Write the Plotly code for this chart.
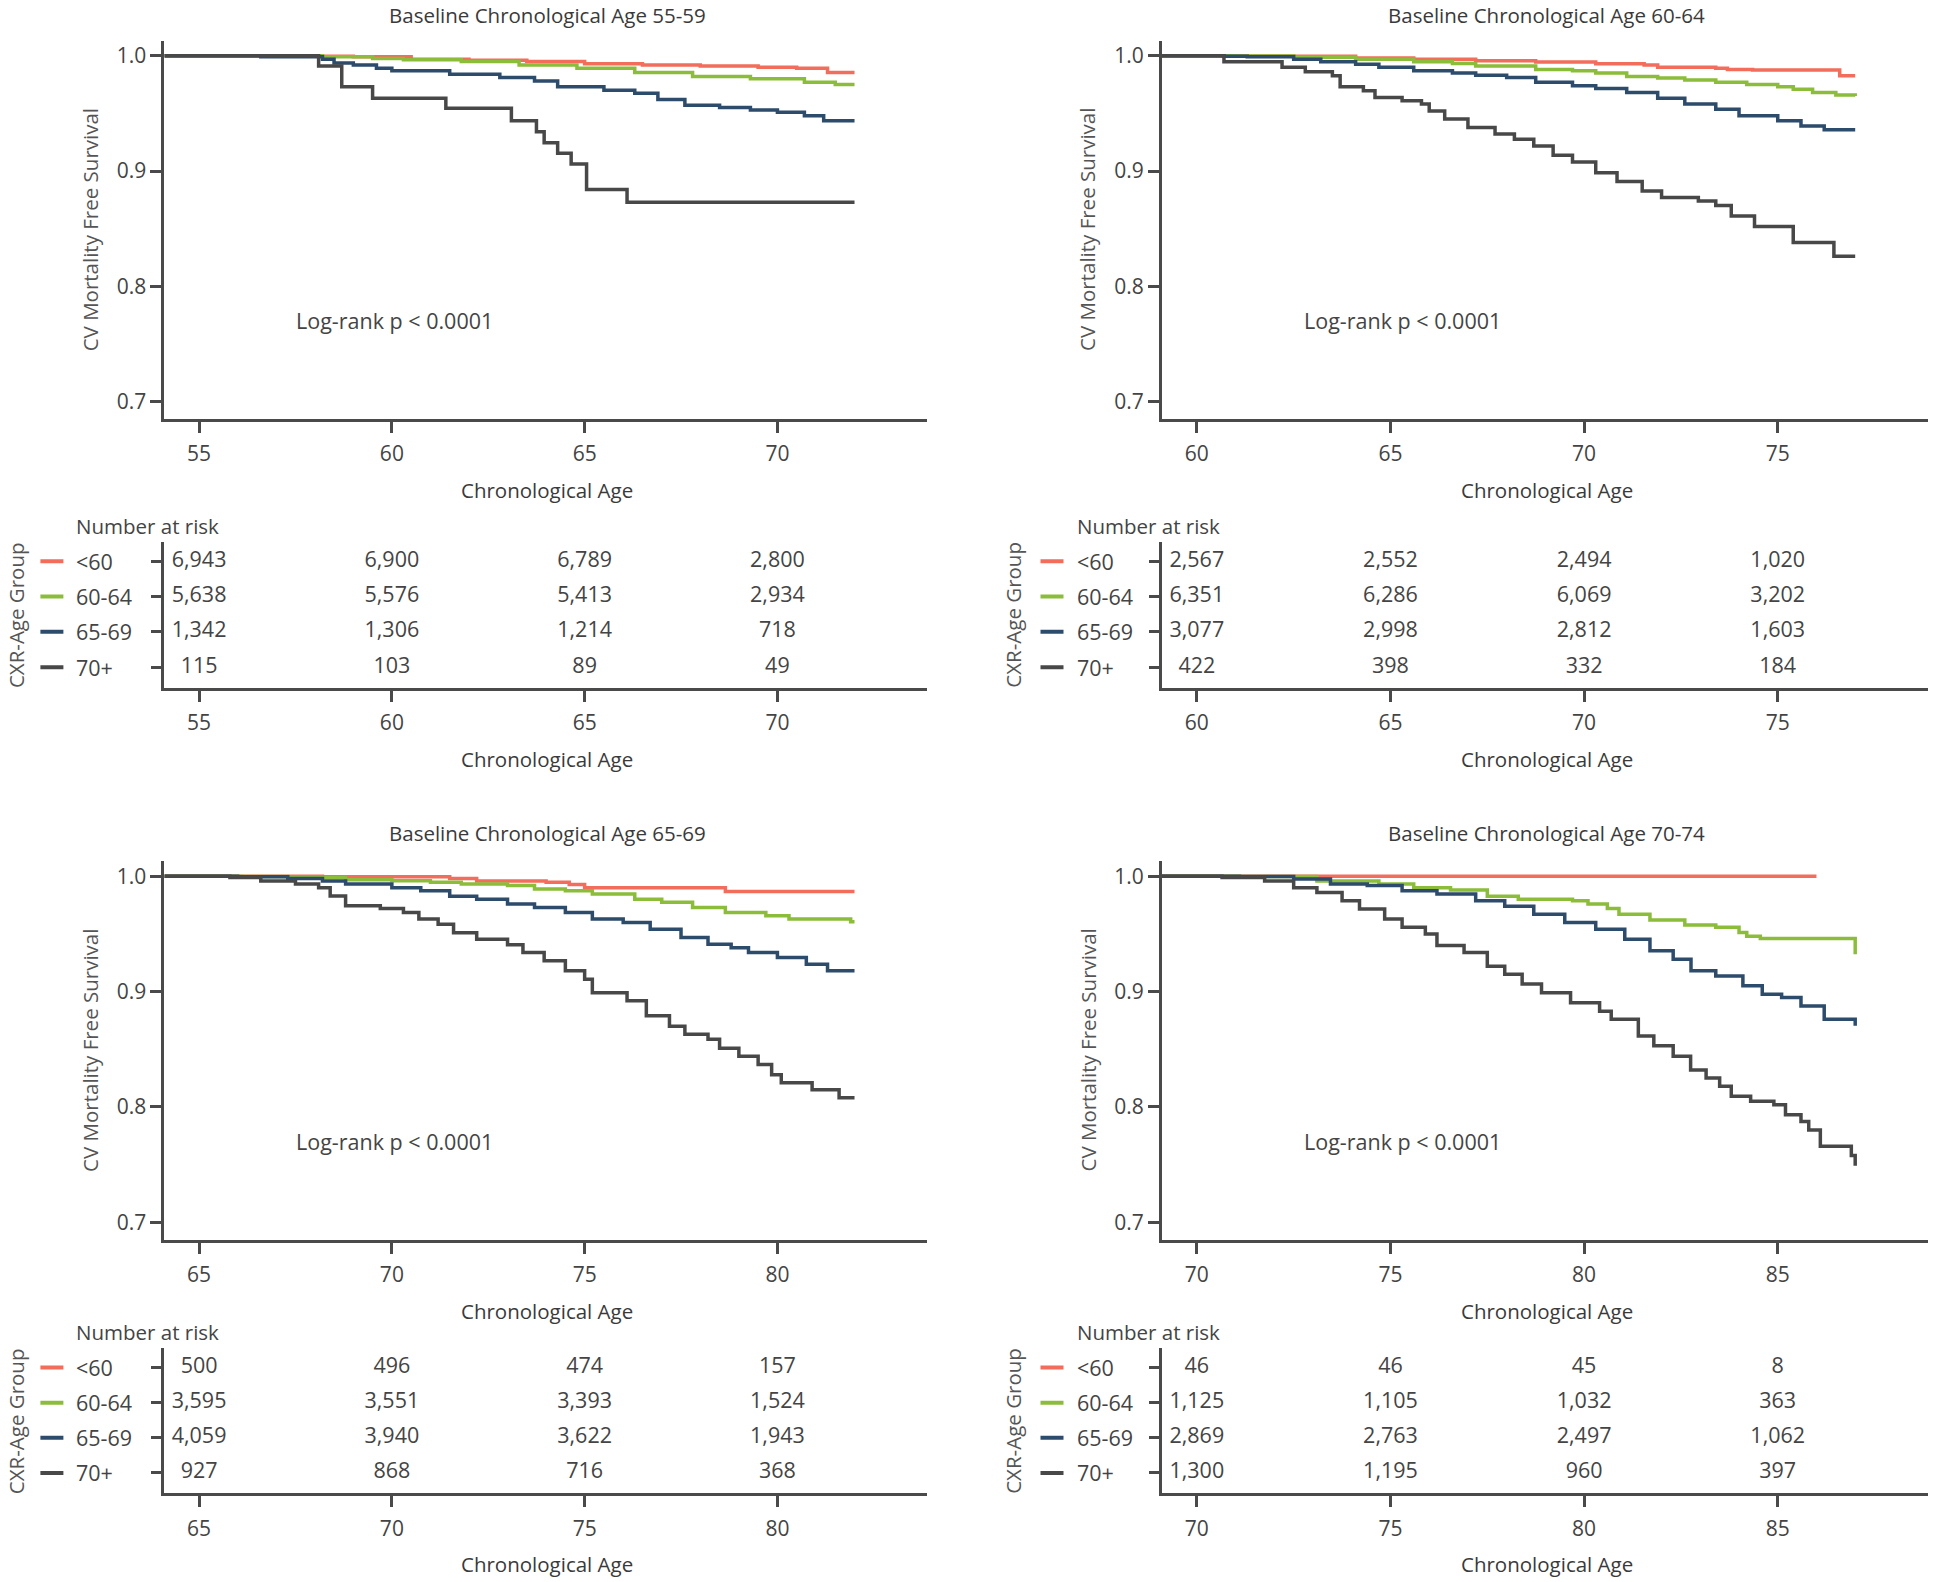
import plotly.graph_objects as go

# ---------------- data ----------------
groups = ["<60", "60-64", "65-69", "70+"]
panel_titles = ["Baseline Chronological Age 55-59", "Baseline Chronological Age 60-64",
                "Baseline Chronological Age 65-69", "Baseline Chronological Age 70-74"]
x_ticks_tl = [55, 60, 65, 70]
x_ticks_tr = [60, 65, 70, 75]
x_ticks_bl = [65, 70, 75, 80]
x_ticks_br = [70, 75, 80, 85]
y_ticks = [0.7, 0.8, 0.9, 1.0]

# --- Baseline 55-59 ---
tl_red_x = [54.1, 58.0, 59.0, 60.5, 62.0, 63.5, 65.0, 66.5, 68.0, 69.5, 70.5, 71.3, 72.0]
tl_red_y = [1.0, 0.9995, 0.999, 0.997, 0.996, 0.995, 0.993, 0.992, 0.991, 0.990, 0.989, 0.9855, 0.9855]
tl_green_x = [54.1, 58.2, 59.5, 60.3, 61.8, 63.3, 64.8, 66.3, 67.8, 69.3, 70.7, 71.5, 72.0]
tl_green_y = [1.0, 0.999, 0.9975, 0.9965, 0.995, 0.992, 0.989, 0.9855, 0.982, 0.980, 0.977, 0.975, 0.975]
tl_blue_x = [54.1, 56.6, 58.2, 58.5, 59.0, 59.6, 60.0, 61.5, 62.8, 63.7, 64.3, 65.5, 66.3, 66.9,
             67.6, 68.5, 69.3, 70.0, 70.7, 71.2, 72.0]
tl_blue_y = [1.0, 0.999, 0.997, 0.9936, 0.992, 0.989, 0.987, 0.984, 0.981, 0.978, 0.973, 0.970, 0.9675, 0.962,
             0.957, 0.955, 0.953, 0.951, 0.948, 0.9435, 0.9435]
tl_black_x = [54.1, 58.1, 58.7, 59.5, 61.4, 63.1, 63.75, 63.95, 64.3, 64.65, 65.05, 66.1, 72.0]
tl_black_y = [1.0, 0.991, 0.973, 0.963, 0.9545, 0.9435, 0.934, 0.9246, 0.9154, 0.906, 0.884, 0.873, 0.873]

# --- Baseline 60-64 ---
tr_red_x = [59.0, 61.3, 62.5, 64.1, 65.6, 67.2, 68.75, 70.3, 71.55, 71.9, 73.4, 73.7, 74.35, 76.6, 77.0]
tr_red_y = [1.0, 0.9997, 0.9994, 0.998, 0.997, 0.9957, 0.9945, 0.993, 0.992, 0.990, 0.989, 0.988, 0.9875,
            0.9826, 0.9826]
tr_green_x = [59.0, 61.0, 62.5, 64.1, 65.6, 66.6, 67.2, 68.75, 69.7, 70.3, 71.1, 71.9, 72.6, 73.4, 74.2,
              75.0, 75.4, 75.9, 76.5, 77.0]
tr_green_y = [1.0, 0.9997, 0.9986, 0.997, 0.9948, 0.9933, 0.991, 0.988, 0.987, 0.985, 0.982, 0.9806, 0.979,
              0.977, 0.975, 0.973, 0.971, 0.968, 0.966, 0.965]
tr_blue_x = [59.0, 60.7, 61.3, 62.5, 63.2, 64.1, 64.7, 65.6, 66.6, 67.2, 68.0, 68.75, 69.7, 70.3, 71.1,
             71.9, 72.6, 73.4, 74.0, 75.0, 75.6, 76.2, 77.0]
tr_blue_y = [1.0, 0.9995, 0.999, 0.997, 0.9948, 0.9925, 0.990, 0.987, 0.985, 0.983, 0.981, 0.977, 0.974,
             0.9716, 0.968, 0.963, 0.958, 0.9536, 0.948, 0.9435, 0.939, 0.9357, 0.9357]
tr_black_x = [59.0, 60.7, 62.2, 62.8, 63.5, 63.7, 64.3, 64.6, 65.3, 65.8, 66.0, 66.4, 67.0, 67.7, 68.2,
              68.7, 69.2, 69.7, 70.3, 70.85, 71.5, 72.0, 72.95, 73.4, 73.8, 74.4, 75.4, 76.45, 77.0]
tr_black_y = [1.0, 0.9948, 0.990, 0.986, 0.9826, 0.973, 0.9696, 0.9638, 0.961, 0.958, 0.952, 0.945, 0.9377,
              0.932, 0.9275, 0.9217, 0.9136, 0.9078, 0.8986, 0.891, 0.8826, 0.877, 0.874, 0.870, 0.861,
              0.852, 0.838, 0.826, 0.826]

# --- Baseline 65-69 ---
bl_red_x = [64.1, 68.2, 71.5, 72.2, 74.0, 74.6, 75.0, 78.65, 82.0]
bl_red_y = [1.0, 0.9995, 0.998, 0.996, 0.9948, 0.9928, 0.990, 0.9867, 0.9867]
bl_green_x = [64.1, 66.1, 67.3, 68.8, 70.0, 71.0, 71.8, 73.0, 73.7, 74.5, 75.2, 76.3, 77.0, 77.8, 78.65,
              79.7, 80.3, 81.9, 82.0]
bl_green_y = [1.0, 0.9997, 0.999, 0.997, 0.9962, 0.9948, 0.9933, 0.992, 0.989, 0.9875, 0.9846, 0.980,
              0.9774, 0.973, 0.9687, 0.9658, 0.963, 0.9606, 0.9606]
bl_blue_x = [64.1, 66.0, 67.3, 68.2, 68.8, 70.0, 70.75, 71.5, 72.2, 73.0, 73.7, 74.5, 75.2, 76.0, 76.7,
             77.5, 78.2, 78.8, 79.25, 80.0, 80.75, 81.3, 82.0]
bl_blue_y = [1.0, 0.9995, 0.998, 0.996, 0.9933, 0.990, 0.9875, 0.9826, 0.980, 0.976, 0.973, 0.9687, 0.963,
             0.960, 0.954, 0.947, 0.941, 0.938, 0.934, 0.9296, 0.9238, 0.918, 0.918]
bl_black_x = [64.1, 65.8, 66.6, 67.5, 68.1, 68.4, 68.8, 69.7, 70.3, 70.7, 71.2, 71.6, 72.2, 73.0, 73.4,
              73.95, 74.5, 75.0, 75.2, 76.1, 76.6, 77.2, 77.6, 78.2, 78.5, 79.0, 79.5, 79.85, 80.1, 80.9,
              81.6, 82.0]
bl_black_y = [1.0, 0.999, 0.996, 0.9933, 0.990, 0.983, 0.9745, 0.972, 0.9687, 0.963, 0.9585, 0.951, 0.9455,
              0.9406, 0.934, 0.9267, 0.918, 0.9107, 0.899, 0.892, 0.879, 0.870, 0.863, 0.8586, 0.851, 0.844,
              0.8368, 0.828, 0.821, 0.815, 0.808, 0.808]

# --- Baseline 70-74 ---
br_red_x = [69.0, 86.0]
br_red_y = [1.0, 1.0]
br_green_x = [69.0, 71.1, 73.1, 74.7, 75.6, 76.55, 77.5, 78.3, 79.7, 80.1, 80.6, 80.9, 81.7, 82.6, 83.4,
              84.0, 84.2, 84.55, 87.0, 87.0]
br_green_y = [1.0, 0.9997, 0.996, 0.9933, 0.990, 0.988, 0.9826, 0.980, 0.9788, 0.976, 0.972, 0.967, 0.962,
              0.9577, 0.9557, 0.9513, 0.948, 0.946, 0.946, 0.9325]
br_blue_x = [69.0, 71.1, 72.5, 73.45, 74.4, 75.3, 76.2, 77.2, 77.95, 78.7, 79.5, 80.3, 81.05, 81.7, 82.3,
             82.76, 83.4, 84.1, 84.6, 85.1, 85.6, 86.2, 87.0, 87.0]
br_blue_y = [1.0, 0.9997, 0.9977, 0.9933, 0.992, 0.9875, 0.9846, 0.9788, 0.974, 0.967, 0.960, 0.954, 0.9455,
             0.9354, 0.928, 0.918, 0.9136, 0.905, 0.8977, 0.895, 0.8875, 0.876, 0.876, 0.8705]
br_black_x = [69.0, 70.65, 71.75, 72.5, 73.1, 73.75, 74.2, 74.85, 75.3, 75.9, 76.2, 76.9, 77.5, 77.95,
              78.4, 78.9, 79.65, 80.4, 80.7, 81.4, 81.8, 82.3, 82.75, 83.15, 83.5, 83.8, 84.3, 84.9, 85.2,
              85.6, 85.8, 86.1, 86.9, 87.0]
br_black_y = [1.0, 0.999, 0.996, 0.990, 0.986, 0.9788, 0.9716, 0.963, 0.9557, 0.950, 0.940, 0.934, 0.922,
              0.915, 0.9067, 0.899, 0.8904, 0.883, 0.876, 0.8615, 0.853, 0.844, 0.832, 0.8252, 0.818,
              0.8093, 0.805, 0.802, 0.7933, 0.7875, 0.780, 0.766, 0.758, 0.749]

# Numbers at risk (rows: <60, 60-64, 65-69, 70+; columns at the x ticks)
risk_tl = [[6943, 6900, 6789, 2800], [5638, 5576, 5413, 2934], [1342, 1306, 1214, 718], [115, 103, 89, 49]]
risk_tr = [[2567, 2552, 2494, 1020], [6351, 6286, 6069, 3202], [3077, 2998, 2812, 1603], [422, 398, 332, 184]]
risk_bl = [[500, 496, 474, 157], [3595, 3551, 3393, 1524], [4059, 3940, 3622, 1943], [927, 868, 716, 368]]
risk_br = [[46, 46, 45, 8], [1125, 1105, 1032, 363], [2869, 2763, 2497, 1062], [1300, 1195, 960, 397]]

# ---------------- styling / layout ----------------
W, H = 1938, 1582
COLORS = ["#f26d5b", "#8bbd3b", "#2d4b6b", "#484848"]
AX = "#4a4a4a"
TXT = "#444444"
GRAY = "#555555"
FONT = "Open Sans"


def fx(p):
    return p / W


def fy(p):
    return 1 - p / H


panels = [
    dict(title=panel_titles[0], ticks=x_ticks_tl, risk=risk_tl,
         curves=[(tl_red_x, tl_red_y), (tl_green_x, tl_green_y), (tl_blue_x, tl_blue_y), (tl_black_x, tl_black_y)]),
    dict(title=panel_titles[1], ticks=x_ticks_tr, risk=risk_tr,
         curves=[(tr_red_x, tr_red_y), (tr_green_x, tr_green_y), (tr_blue_x, tr_blue_y), (tr_black_x, tr_black_y)]),
    dict(title=panel_titles[2], ticks=x_ticks_bl, risk=risk_bl,
         curves=[(bl_red_x, bl_red_y), (bl_green_x, bl_green_y), (bl_blue_x, bl_blue_y), (bl_black_x, bl_black_y)]),
    dict(title=panel_titles[3], ticks=x_ticks_br, risk=risk_br,
         curves=[(br_red_x, br_red_y), (br_green_x, br_green_y), (br_blue_x, br_blue_y), (br_black_x, br_black_y)]),
]

# pixel geometry (page pixels)
col_left = [164.4, 1162.0]
col_right = [927.0, 1928.0]
label_dx = [-90, -87.5]        # left edge of group labels / "Number at risk" relative to axis
logrank_dx = [130, 140]
surv_top = [40.8, 861.4]
surv_bot = [419.0, 1239.6]
risk_top = [541.7, 1348.3]
risk_bot = [687.7, 1493.3]
title_y = [15.0, 833.3]
nar_y = [526.0, 1332.0]
X_SPAN = 19.78

fig = go.Figure()
layout = dict(width=W, height=H, margin=dict(l=0, r=0, t=0, b=0),
              plot_bgcolor="white", paper_bgcolor="white", showlegend=False,
              font=dict(family=FONT, color=TXT, size=21))
annotations = []
shapes = []

n_rows = len(groups)
for i, p in enumerate(panels):
    r, c = divmod(i, 2)
    sa = 2 * i + 1
    ra = 2 * i + 2
    xdom = [fx(col_left[c]), fx(col_right[c])]
    xr = [p["ticks"][0] - 0.9, p["ticks"][0] - 0.9 + X_SPAN]
    common_x = dict(domain=xdom, range=xr, tickvals=p["ticks"], showline=True, linewidth=3,
                    linecolor=AX, ticks="outside", ticklen=11, tickwidth=3, tickcolor=AX,
                    showgrid=False, zeroline=False, tickfont=dict(size=21, color=TXT, family=FONT),
                    ticklabelstandoff=3, fixedrange=True)
    layout[f"xaxis{sa}"] = dict(common_x, anchor=f"y{sa}")
    layout[f"yaxis{sa}"] = dict(domain=[fy(surv_bot[r]), fy(surv_top[r])], range=[0.685, 1.0129],
                                tickvals=y_ticks, tickformat=".1f", showline=True, linewidth=3,
                                linecolor=AX, ticks="outside", ticklen=11, tickwidth=3, tickcolor=AX,
                                showgrid=False, zeroline=False, anchor=f"x{sa}",
                                tickfont=dict(size=21, color=TXT, family=FONT),
                                ticklabelstandoff=0, fixedrange=True)
    layout[f"xaxis{ra}"] = dict(common_x, anchor=f"y{ra}")
    layout[f"yaxis{ra}"] = dict(domain=[fy(risk_bot[r]), fy(risk_top[r])], range=[-0.58, 3.55],
                                tickvals=list(range(n_rows)), showticklabels=False, showline=True,
                                linewidth=3, linecolor=AX, ticks="outside", ticklen=10, tickwidth=3,
                                tickcolor=AX, showgrid=False, zeroline=False, anchor=f"x{ra}",
                                fixedrange=True)

    # survival curves
    for g, (xs, ys) in enumerate(p["curves"]):
        fig.add_trace(go.Scatter(x=xs, y=ys, mode="lines", line=dict(color=COLORS[g], width=3.5, shape="hv"),
                                 xaxis=f"x{sa}", yaxis=f"y{sa}", name=groups[g], hoverinfo="skip"))
    # numbers at risk
    for g in range(n_rows):
        row_idx = n_rows - 1 - g
        fig.add_trace(go.Scatter(x=p["ticks"], y=[row_idx] * len(p["ticks"]), mode="text",
                                 text=[f"{v:,}" for v in p["risk"][g]],
                                 textfont=dict(size=21.5, color=TXT, family=FONT),
                                 xaxis=f"x{ra}", yaxis=f"y{ra}", hoverinfo="skip"))
        # legend key + group label
        shapes.append(dict(type="line", xref="paper", yref=f"y{ra}",
                           x0=fx(col_left[c] + label_dx[c] - 34), x1=fx(col_left[c] + label_dx[c] - 11),
                           y0=row_idx, y1=row_idx, line=dict(color=COLORS[g], width=4)))
        annotations.append(dict(text=groups[g], xref="paper", yref=f"y{ra}", x=fx(col_left[c] + label_dx[c]),
                                y=row_idx, xanchor="left", yanchor="middle", showarrow=False,
                                font=dict(size=21.5, color=TXT, family=FONT)))

    cx = (col_left[c] + col_right[c]) / 2
    annotations += [
        dict(text=p["title"], xref="paper", yref="paper", x=fx(cx + 1.5), y=fy(title_y[r]),
             xanchor="center", yanchor="middle", showarrow=False, font=dict(size=20.5, color="#3a3a3a")),
        dict(text="Chronological Age", xref="paper", yref="paper", x=fx(cx + 1.5), y=fy(surv_bot[r] + 71),
             xanchor="center", yanchor="middle", showarrow=False, font=dict(size=20.5, color="#3a3a3a")),
        dict(text="Chronological Age", xref="paper", yref="paper", x=fx(cx + 1.5), y=fy(risk_bot[r] + 71),
             xanchor="center", yanchor="middle", showarrow=False, font=dict(size=20.5, color="#3a3a3a")),
        dict(text="CV Mortality Free Survival", xref="paper", yref="paper", x=fx(col_left[c] - 75),
             y=fy((surv_top[r] + surv_bot[r]) / 2), xanchor="center", yanchor="middle", textangle=-90,
             showarrow=False, font=dict(size=20.5, color=GRAY, family=FONT)),
        dict(text="CXR-Age Group", xref="paper", yref="paper", x=fx(col_left[c] - 149),
             y=fy((risk_top[r] + risk_bot[r]) / 2), xanchor="center", yanchor="middle", textangle=-90,
             showarrow=False, font=dict(size=20.5, color=GRAY, family=FONT)),
        dict(text="Number at risk", xref="paper", yref="paper", x=fx(col_left[c] + label_dx[c]), y=fy(nar_y[r]),
             xanchor="left", yanchor="middle", showarrow=False, font=dict(size=20.5, color=TXT)),
        dict(text="Log-rank p < 0.0001", xref="paper", yref="paper", x=fx(col_left[c] + logrank_dx[c]),
             y=fy(surv_top[r] + 280), xanchor="left", yanchor="middle", showarrow=False,
             font=dict(size=21.5, color=TXT)),
    ]

layout["annotations"] = annotations
layout["shapes"] = shapes
fig.update_layout(**layout)
fig.write_html("out.html", config={"displayModeBar": False},
               post_script="document.body.style.margin='0px';document.body.style.overflow='hidden';")
